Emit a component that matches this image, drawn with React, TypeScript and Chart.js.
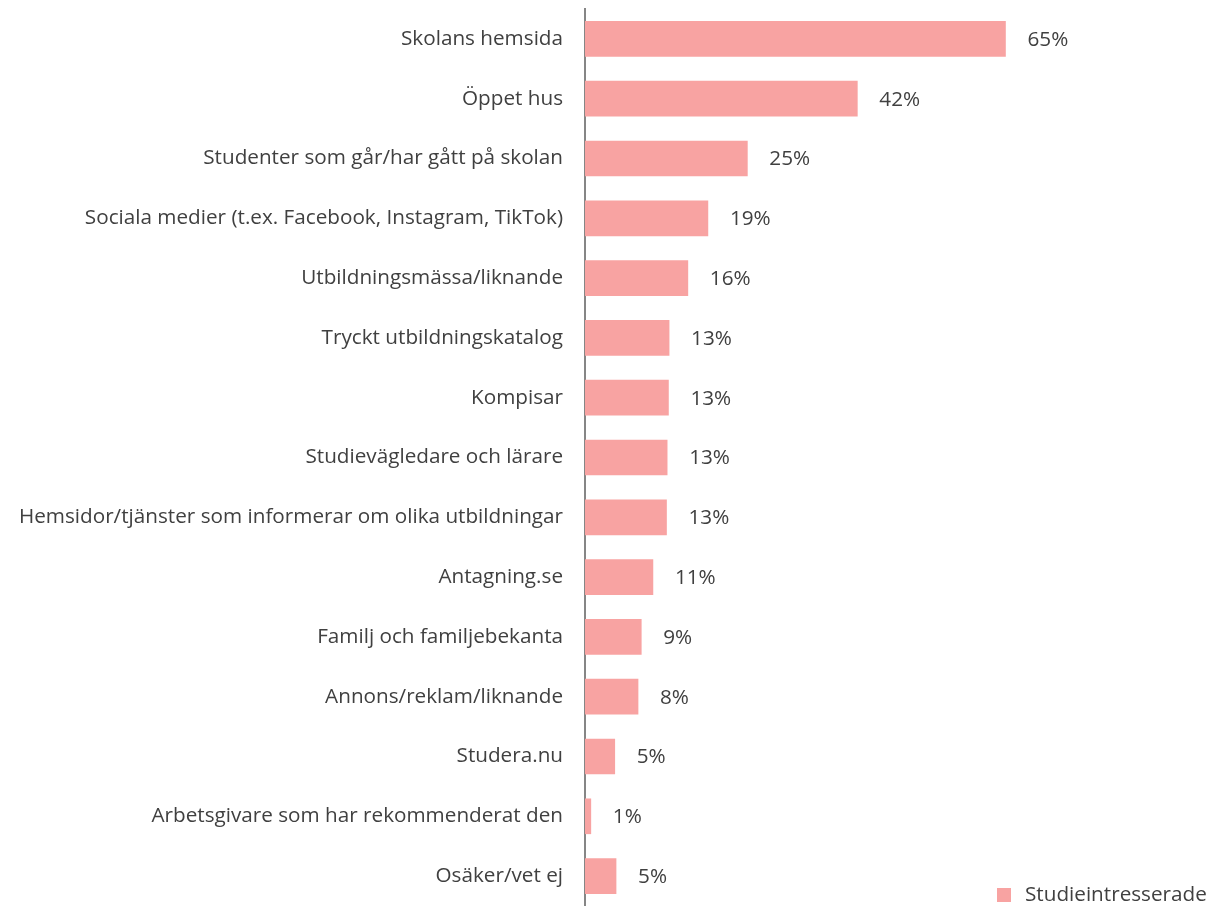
import React, { useEffect, useRef } from "react";
import { Chart, registerables } from "chart.js";

Chart.register(...registerables);

const categories = [
  "Skolans hemsida",
  "Öppet hus",
  "Studenter som går/har gått på skolan",
  "Sociala medier (t.ex. Facebook, Instagram, TikTok)",
  "Utbildningsmässa/liknande",
  "Tryckt utbildningskatalog",
  "Kompisar",
  "Studievägledare och lärare",
  "Hemsidor/tjänster som informerar om olika utbildningar",
  "Antagning.se",
  "Familj och familjebekanta",
  "Annons/reklam/liknande",
  "Studera.nu",
  "Arbetsgivare som har rekommenderat den",
  "Osäker/vet ej",
];
const values = [65, 42.1, 25.1, 19.0, 15.9, 13.0, 12.9, 12.7, 12.6, 10.5, 8.7, 8.2, 4.6, 0.9, 4.8];
const labels = ["65%", "42%", "25%", "19%", "16%", "13%", "13%", "13%", "13%", "11%", "9%", "8%", "5%", "1%", "5%"];
const seriesName = "Studieintresserade";

const FONT = "'Open Sans', sans-serif";
const FS = 20.7;
const TEXT = "#404040";
const BAR = "#F8A3A2";

export default function App() {
  const ref = useRef<HTMLCanvasElement>(null);
  useEffect(() => {
    if (!ref.current) return;
    const labelPlugin = {
      id: "barLabels",
      afterDatasetsDraw(chart: any) {
        const ctx = chart.ctx;
        const meta = chart.getDatasetMeta(0);
        ctx.save();
        ctx.font = `${FS}px ${FONT}`;
        ctx.fillStyle = TEXT;
        ctx.textAlign = "left";
        ctx.textBaseline = "middle";
        meta.data.forEach((bar: any, i: number) => {
          ctx.fillText(labels[i], bar.x + 22, bar.y + 1);
        });
        // legend
        ctx.fillStyle = BAR;
        ctx.fillRect(997, 888, 14, 14);
        ctx.fillStyle = TEXT;
        ctx.fillText(seriesName, 1025, 895);
        ctx.restore();
      },
    };
    const chart = new Chart(ref.current, {
      type: "bar",
      data: {
        labels: categories,
        datasets: [
          {
            label: seriesName,
            data: values,
            backgroundColor: BAR,
            barThickness: 35,
          },
        ],
      },
      options: {
        indexAxis: "y",
        animation: false,
        responsive: false,
        maintainAspectRatio: false,
        layout: { padding: { top: 9, bottom: -3, left: 0, right: 0 } },
        plugins: {
          legend: { display: false },
          tooltip: { enabled: false },
        },
        scales: {
          x: {
            display: false,
            min: 0,
            max: 96,
          },
          y: {
            afterFit(scale: any) {
              scale.width = 585;
              scale.paddingTop = 0;
              scale.paddingBottom = 0;
            },
            grid: { display: false, drawTicks: false },
            border: { display: true, color: "#868686", width: 2 },
            ticks: {
              padding: 22,
              color: TEXT,
              font: { family: FONT, size: FS },
              autoSkip: false,
            },
          },
        },
      },
      plugins: [labelPlugin],
    });
    return () => chart.destroy();
  }, []);
  return (
    <div style={{ position: "fixed", left: 0, top: 0, width: 1206, height: 906, background: "#fff" }}>
      <canvas ref={ref} width={1206} height={906} style={{ display: "block" }} />
    </div>
  );
}
